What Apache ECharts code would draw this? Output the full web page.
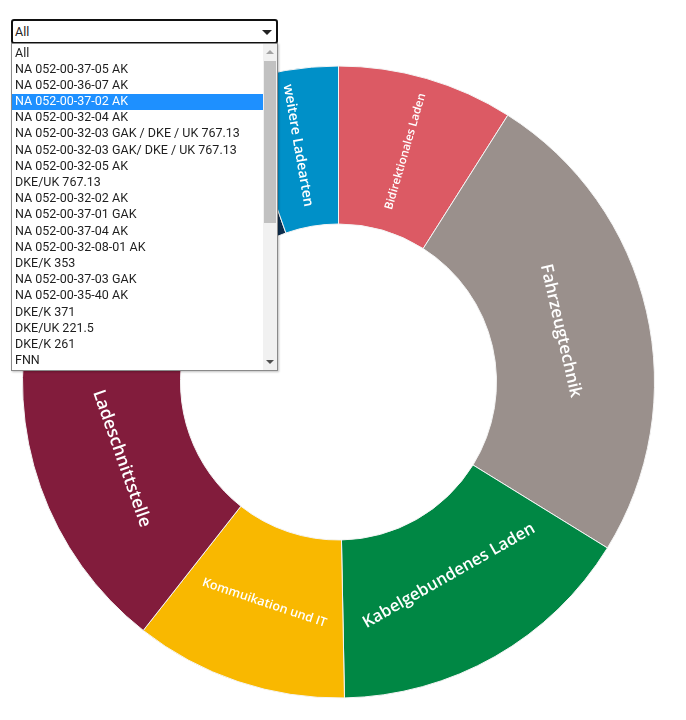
<!DOCTYPE html>
<html>
<head>
<meta charset="utf-8">
<script src="https://cdn.jsdelivr.net/npm/echarts@6/dist/echarts.min.js"></script>
<style>
  html, body { margin:0; padding:0; background:#fff; }
  #chart { position:absolute; left:0; top:0; width:686px; height:720px; }
  #sel { position:absolute; left:11px; top:19px; width:263px; height:21px; border:2px solid #111; border-radius:3px; background:#fff;
         font-family:"Roboto", sans-serif; font-size:12.5px; color:#222; z-index:5; }
  #sel .txt { position:absolute; left:2px; top:3px; }
  #sel .arr { position:absolute; right:4px; top:9px; width:0; height:0; border-left:5px solid transparent; border-right:5px solid transparent; border-top:5px solid #222; }
  #list { position:absolute; left:11px; top:43px; width:265px; height:326px; border:1px solid #8a8a8a; background:#fff; overflow:hidden; z-index:6;
          box-shadow: 1px 1px 2px rgba(0,0,0,0.25); font-family:"Roboto", sans-serif; font-size:12.5px; color:#1e1e1e; }
  #rows { position:absolute; left:0; top:1.5px; width:251px; }
  .row { height:16.2px; line-height:14.5px; padding-left:3px; white-space:nowrap; box-sizing:border-box; }
  .row.hl { background:#1e90ff; color:#fff; }
  #sb { position:absolute; right:0; top:0; width:14px; height:326px; background:#f1f1f1; }
  #thumb { position:absolute; left:1px; top:17px; width:12px; height:162px; background:#c1c1c1; }
  .up { position:absolute; left:3px; top:6px; width:0; height:0; border-left:4px solid transparent; border-right:4px solid transparent; border-bottom:4px solid #a3a3a3; }
  .dn { position:absolute; left:3px; bottom:6px; width:0; height:0; border-left:4px solid transparent; border-right:4px solid transparent; border-top:4px solid #505050; }
</style>
</head>
<body>
<div id="chart"></div>
<div id="sel"><span class="txt">All</span><span class="arr"></span></div>
<div id="list"><div id="rows"></div><div id="sb"><div class="up"></div><div id="thumb"></div><div class="dn"></div></div></div>
<script>
// Data (clockwise from 12 o'clock)
const categories = ["Bidirektionales Laden", "Fahrzeugtechnik", "Kabelgebundenes Laden", "Kommuikation und IT", "Ladeschnittstelle", "Sonstige", "weitere Ladearten"];
const values = [9.0, 24.8, 15.9, 10.9, 18.0, 16.0, 5.4];
const colors = ["#dc5a64", "#9a908c", "#008744", "#f9b800", "#821c3c", "#0d2d4c", "#0090c8"];
const labelRotations = ["radial", "tangential", "tangential", "tangential", "tangential", "tangential", "radial"];
const labelSizes = [11.5, 17, 16.5, 12.5, 17.5, 14, 14];
const labelShifts = [0, 12, -17, -7, -10, 0, 0];
const dropdownOptions = ["All", "NA 052-00-37-05 AK", "NA 052-00-36-07 AK", "NA 052-00-37-02 AK", "NA 052-00-32-04 AK",
  "NA 052-00-32-03 GAK / DKE / UK 767.13", "NA 052-00-32-03 GAK/ DKE / UK 767.13", "NA 052-00-32-05 AK", "DKE/UK 767.13",
  "NA 052-00-32-02 AK", "NA 052-00-37-01 GAK", "NA 052-00-37-04 AK", "NA 052-00-32-08-01 AK", "DKE/K 353",
  "NA 052-00-37-03 GAK", "NA 052-00-35-40 AK", "DKE/K 371", "DKE/UK 221.5", "DKE/K 261", "FNN"];
const highlighted = "NA 052-00-37-02 AK";

const rows = document.getElementById('rows');
dropdownOptions.forEach(o => {
  const d = document.createElement('div');
  d.className = 'row' + (o === highlighted ? ' hl' : '');
  d.textContent = o;
  rows.appendChild(d);
});

const chart = echarts.init(document.getElementById('chart'), null, {renderer:'canvas'});
chart.setOption({
  animation:false,
  series:[{
    type:'pie',
    center:[338.5, 382],
    radius:[158, 316],
    startAngle:90,
    clockwise:true,
    itemStyle:{ borderColor:'#f4f4f4', borderWidth:1 },
    label:{ position:'inside', color:'#fff', fontFamily:'"Open Sans", sans-serif', fontWeight:600 },
    labelLine:{ show:false },
    emphasis:{ disabled:true },
    data: categories.map((c,i) => ({
      name:c, value:values[i],
      itemStyle:{ color:colors[i] },
      label:{ show: c !== "Sonstige", rotate: labelRotations[i], fontSize: labelSizes[i], offset:[0, labelShifts[i]], formatter:'{b}' }
    }))
  }]
});
</script>
</body>
</html>
